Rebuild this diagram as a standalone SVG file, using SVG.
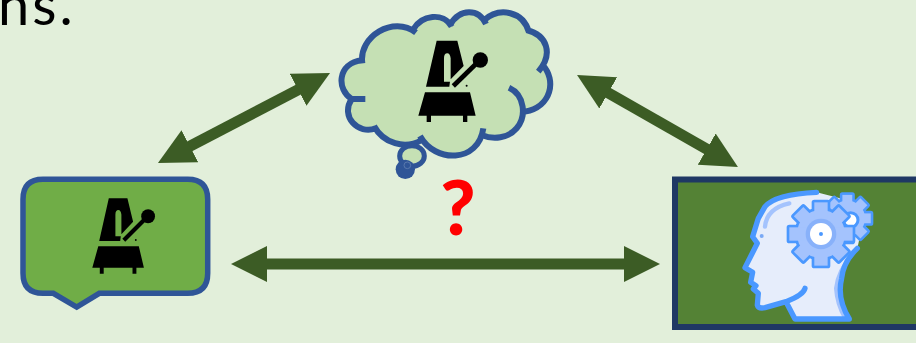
<svg xmlns="http://www.w3.org/2000/svg" width="916" height="343" viewBox="0 0 916 343">
<style>
.arrow{stroke:#3c5c25;stroke-width:11;fill:none;marker-start:url(#head);marker-end:url(#head)}
.blue{stroke:#2f5597;fill:none}
.ln{stroke:#4a98ff;stroke-width:16;stroke-linecap:round;stroke-linejoin:round}
</style>
<defs>
<marker id="head" markerUnits="userSpaceOnUse" markerWidth="38" markerHeight="38" viewBox="0 0 38 38" refX="16" refY="19" orient="auto-start-reverse">
<path d="M0,1 L36,19 L0,37 Z" fill="#3c5c25"/>
</marker>
<g id="metronome">
<path fill-rule="evenodd" d="M320,122 L382,122 L401,198 L362,238 L362,175 Q360,160 352,160 Q342,160 342,175 L342,245 L360,245 L358,260 L288,260 Z"/>
<path d="M370,258 L450,180" stroke="#000" stroke-width="14"/>
<circle cx="451" cy="180" r="23"/>
<circle cx="410" cy="257" r="3"/>
<path d="M285,277 L420,277 L437,347 L412,347 L412,366 L399,366 L399,347 L303,347 L303,366 L290,366 L290,347 L265,347 Z"/>
</g>
<g id="gear">
<circle r="72"/>
<rect x="-20" y="-95" width="40" height="190"/>
<rect x="-20" y="-95" width="40" height="190" transform="rotate(45)"/>
<rect x="-20" y="-95" width="40" height="190" transform="rotate(90)"/>
<rect x="-20" y="-95" width="40" height="190" transform="rotate(135)"/>
</g>
</defs>
<rect width="916" height="343" fill="#e2efda"/>
<text x="-2" y="25" font-family="Lato, 'Open Sans', sans-serif" font-size="56" letter-spacing="3" fill="#000">ns.</text>
<g id="connectors">
<line class="arrow" x1="175.7" y1="153.7" x2="312.3" y2="82.3"/>
<line class="arrow" x1="594.4" y1="84.9" x2="720.6" y2="157.1"/>
<line class="arrow" x1="251" y1="264" x2="640" y2="264"/>
</g>
<g id="node-cloud" transform="translate(330,0) scale(0.3333)">
<path fill="#c5e0b4" d="M95,185 C90,110 190,50 250,95 C270,50 340,35 365,75 C390,25 440,25 465,65 C510,15 580,35 595,90 C650,105 670,160 635,205 C680,240 665,320 590,335 C585,390 530,430 460,415 C430,480 320,490 272,415 C230,450 160,430 132,388 C80,405 30,350 65,297 C20,280 20,190 95,185 Z"/>
<path class="blue" stroke-width="18" d="M97,190 C85,110 190,45 258,98 M250,88 C275,45 340,35 365,80 M360,75 C390,25 445,25 468,72 M460,62 C510,18 580,35 597,97 M590,90 C650,105 672,160 625,215 M638,195 C680,240 665,320 585,335 M537,263 C585,285 590,350 560,385 C535,415 490,420 455,405 M460,385 C445,490 315,490 270,408 M275,420 C225,450 160,430 132,378 M137,385 C85,405 30,350 65,297 L106,297 M65,297 C20,270 20,190 97,180"/>
<ellipse cx="246" cy="468" rx="37" ry="31" fill="#c5e0b4" stroke="#2f5597" stroke-width="15"/>
<circle cx="226" cy="508" r="29" fill="#2f5597"/>
<circle cx="232" cy="496" r="10" fill="none" stroke="#5878ad" stroke-width="3"/>
<use href="#metronome" fill="#000"/>
</g>
<g id="node-question">
<text x="458" y="235" text-anchor="middle" font-family="Lato, 'Open Sans', sans-serif" font-weight="900" font-size="76" fill="#ff0000">?</text>
</g>
<g id="node-speech">
<path d="M43,179.3 L187.7,179.3 Q207.7,179.3 207.7,199.3 L207.7,273.3 Q207.7,293.3 187.7,293.3 L99.3,293.3 L76.7,307 L53.3,293.3 L43,293.3 Q23,293.3 23,273.3 L23,199.3 Q23,179.3 43,179.3 Z" fill="#70ad47" stroke="#2f5597" stroke-width="5.5"/>
<use href="#metronome" fill="#000" transform="translate(12.8,160.7) scale(0.3,0.3086)"/>
</g>
<g id="node-head">
<rect x="675" y="179.5" width="260" height="147.5" fill="#548235" stroke="#1f3864" stroke-width="6"/>
<g transform="translate(660,165) scale(0.3333)">
<path fill="#e6edfb" d="M470,82 C400,85 340,95 315,125 L295,160 L278,215 L292,235 L255,308 L278,322 L272,352 L288,362 L280,372 L295,385 L292,420 Q295,432 315,428 L378,410 L405,462 L568,462 Q530,400 545,340 Q550,290 592,250 L610,170 L540,100 Z"/>
<path fill="#a4c3fd" d="M592,250 Q530,300 522,370 Q525,420 550,462 L568,462 Q530,400 545,340 Q550,290 592,250 Z"/>
<path d="M470,82 C400,85 340,95 315,125 L295,160 L278,215 L292,235 L255,308 L278,322 L272,352 L288,362 L280,372 L295,385 L292,420 Q295,432 315,428 L378,410 L405,462 L568,462 Q530,400 545,340 Q550,290 592,250 M435,370 Q430,390 378,410" class="ln" fill="none"/>
<path d="M315,185 Q320,130 388,115" fill="none" stroke="#a4c3fd" stroke-width="13" stroke-linecap="round"/>
<circle cx="305" cy="213" r="6" fill="#7aa9f5"/>
<g transform="translate(562,160) scale(0.74)">
<use href="#gear" fill="#4a98ff" stroke="#4a98ff" stroke-width="21" stroke-linejoin="round"/>
<use href="#gear" fill="#a4c3fd"/>
</g>
<circle cx="572" cy="165" r="22" fill="#fff" stroke="#4a98ff" stroke-width="9"/>
<g transform="translate(483,207)">
<use href="#gear" fill="#4a98ff" stroke="#4a98ff" stroke-width="16" stroke-linejoin="round"/>
<use href="#gear" fill="#a4c3fd"/>
<circle r="46" fill="#88b1fa"/>
<circle r="33" fill="#fff"/>
<circle r="6" fill="#4a98ff"/>
</g>
</g>
</g>
</svg>
